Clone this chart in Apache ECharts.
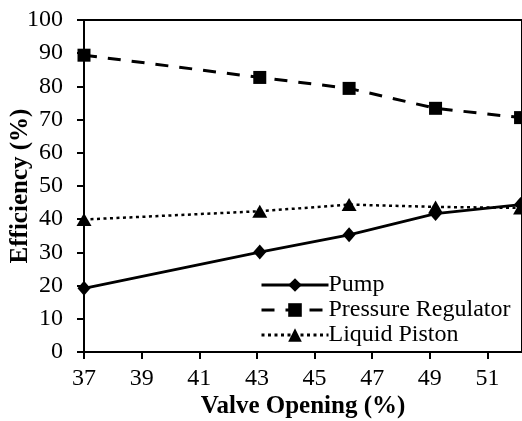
<!DOCTYPE html>
<html>
<head>
<meta charset="utf-8">
<script src="https://cdn.jsdelivr.net/npm/echarts@6/dist/echarts.min.js"></script>
<style>
  html, body { margin: 0; padding: 0; background: #fff; }
  #chart { width: 522px; height: 421px; }
</style>
</head>
<body>
<div id="chart"></div>
<script>
// Valve opening (%) at each measurement
const valveOpening = [37, 43.1, 46.2, 49.2, 52.15];
// Efficiency (%) for each system
const pump = [19.2, 30.1, 35.3, 41.7, 44.4];
const pressureRegulator = [89.4, 82.7, 79.4, 73.4, 70.6];
const liquidPiston = [39.9, 42.4, 44.4, 43.7, 43.4];

const seriesNames = ['Pump', 'Pressure Regulator', 'Liquid Piston'];

const FONT = 'Liberation Serif';

function pairs(ys) {
  return valveOpening.map((x, i) => [x, ys[i]]);
}

const chart = echarts.init(document.getElementById('chart'), null, { renderer: 'canvas' });

chart.setOption({
  backgroundColor: '#fff',
  animation: false,
  textStyle: { fontFamily: FONT, color: '#000' },
  grid: {
    left: 84, right: 0, top: 20, bottom: 69,
    outerBoundsMode: 'none', containLabel: false,
    show: true, borderColor: '#000', borderWidth: 2, backgroundColor: 'transparent'
  },
  legend: {
    left: 255, top: 268,
    orient: 'vertical',
    itemWidth: 67, itemHeight: 17, itemGap: 1,
    lineStyle: { width: 3 },
    textStyle: { fontFamily: FONT, fontSize: 24, color: '#000', padding: [0, 0, 0, -5] },
    data: seriesNames
  },
  xAxis: {
    type: 'value',
    min: 37, max: 52.2, interval: 2,
    name: 'Valve Opening (%)',
    nameLocation: 'middle', nameGap: 42, nameMoveOverlap: false,
    nameTextStyle: { fontFamily: FONT, fontSize: 25, fontWeight: 'bold', color: '#000' },
    axisLine: { show: true, lineStyle: { color: '#000', width: 2 } },
    axisTick: { show: true, inside: false, length: 7, lineStyle: { color: '#000', width: 2 } },
    axisLabel: { fontFamily: FONT, fontSize: 24, color: '#000', margin: 15, showMaxLabel: false },
    splitLine: { show: false }
  },
  yAxis: {
    type: 'value',
    min: 0, max: 100, interval: 10,
    name: 'Efficiency (%)',
    nameLocation: 'middle', nameGap: 51, nameMoveOverlap: false,
    nameTextStyle: { fontFamily: FONT, fontSize: 25, fontWeight: 'bold', color: '#000' },
    axisLine: { show: true, lineStyle: { color: '#000', width: 2 } },
    axisTick: { show: true, inside: false, length: 7, lineStyle: { color: '#000', width: 2 } },
    axisLabel: { fontFamily: FONT, fontSize: 24, color: '#000', margin: 21 },
    splitLine: { show: false }
  },
  series: [
    {
      name: seriesNames[0], type: 'line', data: pairs(pump),
      symbol: 'diamond', symbolSize: [13, 15],
      lineStyle: { color: '#000', width: 2.8, type: 'solid' },
      itemStyle: { color: '#000' }, z: 3
    },
    {
      name: seriesNames[1], type: 'line', data: pairs(pressureRegulator),
      symbol: 'rect', symbolSize: 13,
      lineStyle: { color: '#000', width: 3, type: [13, 11] },
      itemStyle: { color: '#000' }, z: 2
    },
    {
      name: seriesNames[2], type: 'line', data: pairs(liquidPiston),
      symbol: 'triangle', symbolSize: [15, 13],
      lineStyle: { color: '#000', width: 2.5, type: [3, 3.5] },
      itemStyle: { color: '#000' }, z: 2
    }
  ]
});
</script>
</body>
</html>
